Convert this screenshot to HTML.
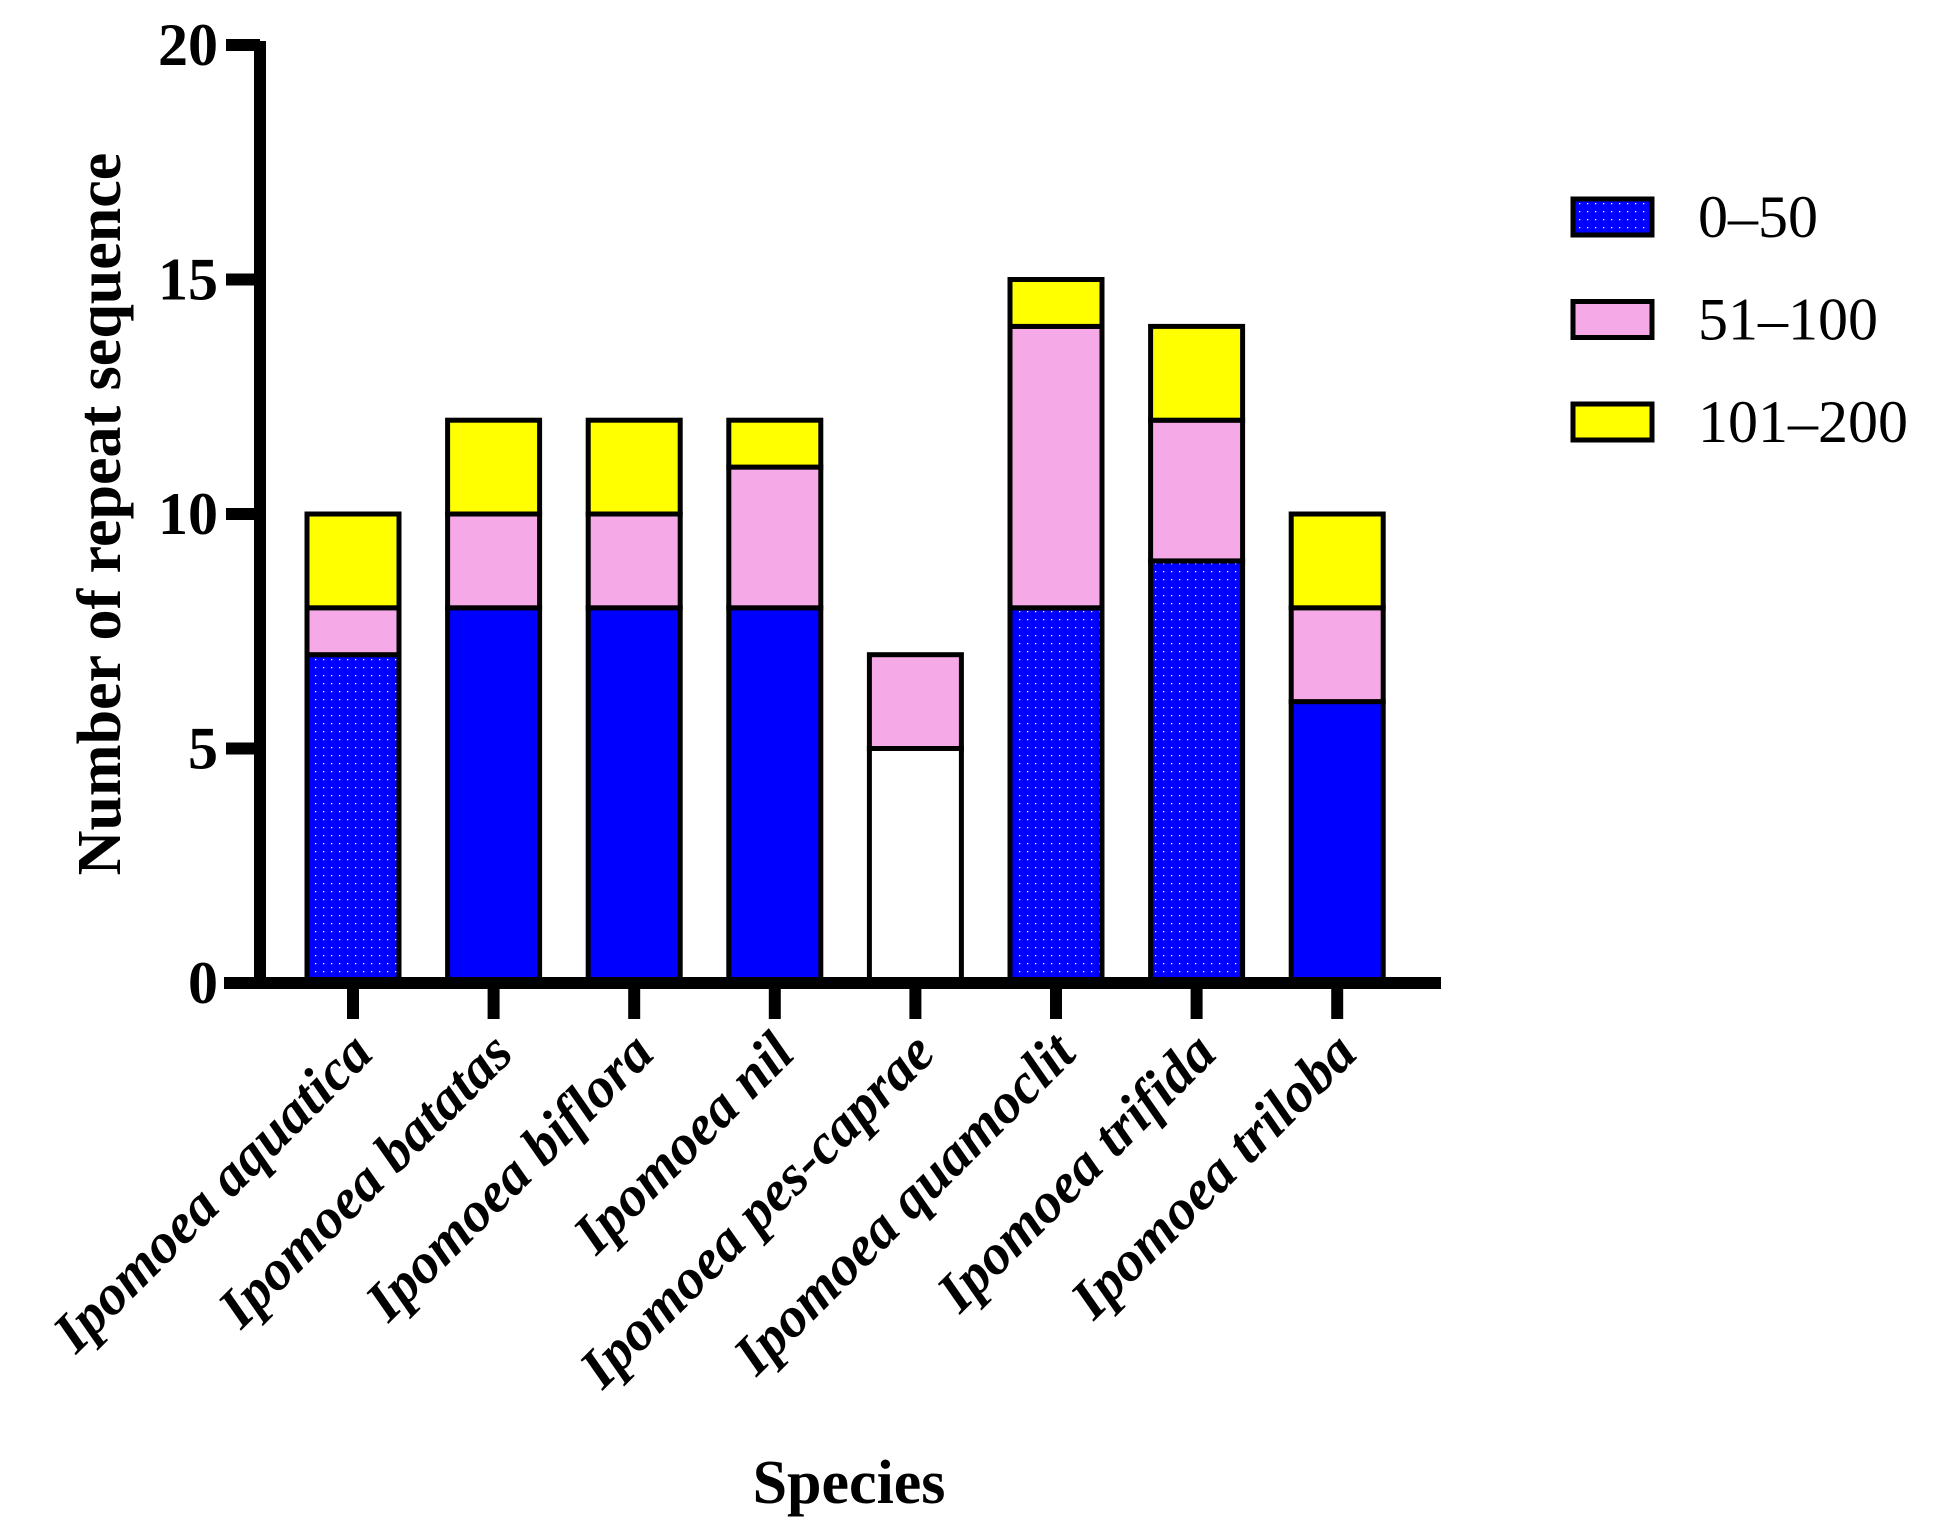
<!DOCTYPE html>
<html><head><meta charset="utf-8"><style>
html,body{margin:0;padding:0;background:#fff;}
svg text{font-family:"Liberation Serif",serif;font-weight:bold;}
</style></head><body>
<svg id="chart" width="1933" height="1530" viewBox="0 0 1933 1530" xmlns="http://www.w3.org/2000/svg">
<defs>
<pattern id="dots" width="8" height="8" patternUnits="userSpaceOnUse">
<rect width="8" height="8" fill="#0000ff"/><rect x="3" y="3" width="1.3" height="1.3" fill="#fff"/>
</pattern>
</defs>
<g id="bars"></g>
<g id="axes"></g>
<g id="legend"></g>
</svg>
<script>
const categories = ["Ipomoea aquatica","Ipomoea batatas","Ipomoea biflora","Ipomoea nil","Ipomoea pes-caprae","Ipomoea quamoclit","Ipomoea trifida","Ipomoea triloba"];
const seriesNames = ["0–50","51–100","101–200"];
const s0 = [7,8,8,8,5,8,9,6];
const s1 = [1,2,2,3,2,6,3,2];
const s2 = [2,2,2,1,0,1,2,2];
const yTicks = [0,5,10,15,20];
const firstFill = ["url(#dots)","#0000ff","#0000ff","#0000ff","#ffffff","url(#dots)","url(#dots)","#0000ff"];

const NS="http://www.w3.org/2000/svg";
const y0=983, pxPerUnit=46.9;
function yScale(v){return y0 - v*pxPerUnit;}
function xScale(i){return 353 + i*140.6;}
function mk(tag,attrs,parent){const e=document.createElementNS(NS,tag);for(const k in attrs)e.setAttribute(k,attrs[k]);parent.appendChild(e);return e;}
const bars=document.getElementById('bars'), axes=document.getElementById('axes'), legend=document.getElementById('legend');
const series=[s0,s1,s2];
const fills=[null,"#f5a9e6","#ffff00"];
const bw=92;
categories.forEach((c,i)=>{
  let base=0;
  series.forEach((s,k)=>{
    const v=s[i]; if(v<=0) return;
    const r=mk('rect',{x:xScale(i)-bw/2,y:yScale(base+v),width:bw,height:yScale(base)-yScale(base+v),fill:k===0?firstFill[i]:fills[k],stroke:'#000','stroke-width':5},bars);
    
    
    base+=v;
  });
});
let a=mk('line',{x1:260,y1:yScale(20)-4,x2:260,y2:y0+6,stroke:'#000','stroke-width':12},axes);

a=mk('line',{x1:224,y1:y0,x2:1441,y2:y0,stroke:'#000','stroke-width':12},axes);

yTicks.forEach(t=>{
  const l=mk('line',{x1:226,y1:yScale(t),x2:260,y2:yScale(t),stroke:'#000','stroke-width':12},axes);
  
  const tx=mk('text',{x:218,y:yScale(t)+20,'text-anchor':'end','font-size':60},axes);
  tx.textContent=t;
  
});
categories.forEach((c,i)=>{
  const l=mk('line',{x1:xScale(i),y1:y0,x2:xScale(i),y2:1019,stroke:'#000','stroke-width':12},axes);
  
  const tx=mk('text',{x:0,y:0,'text-anchor':'end','font-size':57,'font-style':'italic',transform:'translate('+(xScale(i)+22)+',1056) rotate(-45)'},axes);
  tx.textContent=c;
  
});
let t=mk('text',{x:0,y:0,'text-anchor':'middle','font-size':62,transform:'translate(120,514) rotate(-90)'},axes);
t.textContent='Number of repeat sequence';
t=mk('text',{x:849,y:1503,'text-anchor':'middle','font-size':62},axes);
t.textContent='Species';
const legFills=["url(#dots)","#f5a9e6","#ffff00"];
seriesNames.forEach((n,k)=>{
  const yy=199+k*102.5;
  const r=mk('rect',{x:1573,y:yy,width:79,height:36,fill:legFills[k],stroke:'#000','stroke-width':5},legend);
  
  const tx=mk('text',{x:1698,y:yy+38,'font-size':60},legend);
  tx.style.fontWeight='normal';
  tx.textContent=n;
  
});
</script>
</body></html>
